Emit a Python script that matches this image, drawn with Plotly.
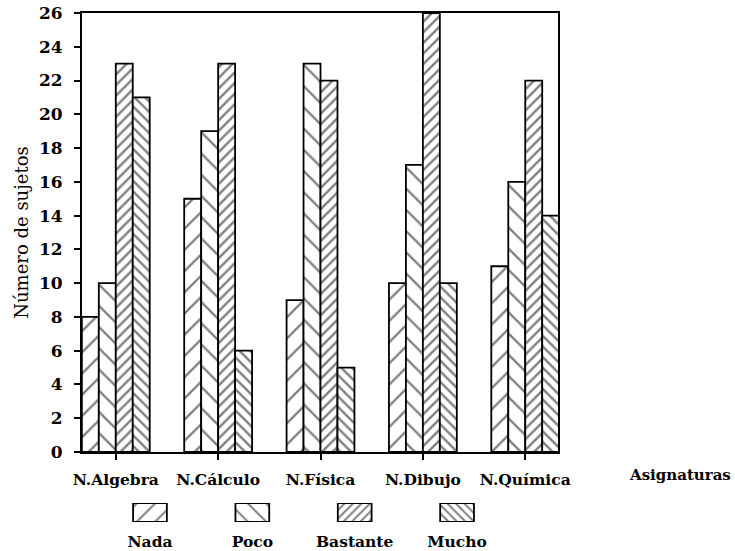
import plotly.graph_objects as go

categories = ["N.Algebra", "N.Cálculo", "N.Física", "N.Dibujo", "N.Química"]
series_names = ["Nada", "Poco", "Bastante", "Mucho"]
nada = [8, 15, 9, 10, 11]
poco = [10, 19, 23, 17, 16]
bastante = [23, 23, 22, 26, 22]
mucho = [21, 6, 5, 10, 14]
y_ticks = list(range(0, 27, 2))

series_values = [nada, poco, bastante, mucho]
pattern_shapes = ["/", "\\", "/", "\\"]
pattern_sizes = [15, 15, 7.5, 7.5]
pattern_solid = [0.15, 0.15, 0.32, 0.32]

FONT = "DejaVu Serif"

fig = go.Figure()
for name, vals, shp, sz, so in zip(series_names, series_values, pattern_shapes, pattern_sizes, pattern_solid):
    fig.add_trace(go.Bar(
        x=categories, y=vals, name=name, showlegend=False,
        marker=dict(color="white",
                    line=dict(color="black", width=1.8),
                    pattern=dict(shape=shp, size=sz, solidity=so,
                                 fgcolor="black", bgcolor="white", fillmode="overlay")),
        xaxis="x", yaxis="y",
    ))

# legend swatches drawn as small bars in a separate axis
fig.add_trace(go.Bar(
    x=series_names, y=[1] * len(series_names), width=0.33, showlegend=False,
    marker=dict(color="white", line=dict(color="black", width=1.8),
                pattern=dict(shape=pattern_shapes, size=[13, 13, 6, 6],
                             solidity=pattern_solid, fgcolor="black",
                             bgcolor="white", fillmode="overlay")),
    xaxis="x2", yaxis="y2", hoverinfo="skip",
))

H = 551
top, bot = 13, 10
plot_h = H - top - bot
def py(px):
    return (H - bot - px) / plot_h

fig.update_layout(
    width=735, height=551,
    margin=dict(l=82, r=177, t=top, b=bot, autoexpand=False),
    paper_bgcolor="white", plot_bgcolor="white",
    barmode="group", bargap=0.337, bargroupgap=0,
    font=dict(family=FONT, color="black", size=15),
    xaxis=dict(domain=[0, 1], type="category", range=[-0.33, 4.32],
               showline=True, linecolor="black", linewidth=2, mirror=True,
               ticks="outside", ticklen=6, tickwidth=1.5, tickcolor="black",
               showgrid=False, zeroline=False, automargin=False,
               tickfont=dict(family=FONT, size=15.5, color="black", weight="bold"),
               ticklabelstandoff=6, anchor="y"),
    yaxis=dict(domain=[py(452), 1], range=[0, 26], tickvals=y_ticks,
               showline=True, linecolor="black", linewidth=2, mirror=True,
               ticks="outside", ticklen=6, tickwidth=1.5, tickcolor="black",
               showgrid=False, zeroline=False, automargin=False,
               tickfont=dict(family=FONT, size=17, color="black", weight="bold"),
               ticklabelstandoff=8,
               title=dict(text="Número de sujetos", standoff=6,
                          font=dict(family=FONT, size=18, color="black")),
               anchor="x"),
    xaxis2=dict(domain=[0, 1], type="category", range=[-0.664, 3.986],
                showline=False, showgrid=False, zeroline=False, ticks="",
                automargin=False, anchor="y2",
                tickfont=dict(family=FONT, size=15.5, color="black", weight="bold"),
                ticklabelstandoff=8),
    yaxis2=dict(domain=[py(522), py(503)], range=[0, 1], visible=False,
                anchor="x2", automargin=False),
    annotations=[dict(text="<b>Asignaturas</b>", x=(680 - 82) / 476, y=py(475),
                      xref="paper", yref="paper", showarrow=False,
                      xanchor="center", yanchor="middle",
                      font=dict(family=FONT, size=15, color="black"))],
)

fig.write_html("out.html", config={"displayModeBar": False},
               post_script="document.body.style.margin='0px';document.body.style.overflow='hidden';")
